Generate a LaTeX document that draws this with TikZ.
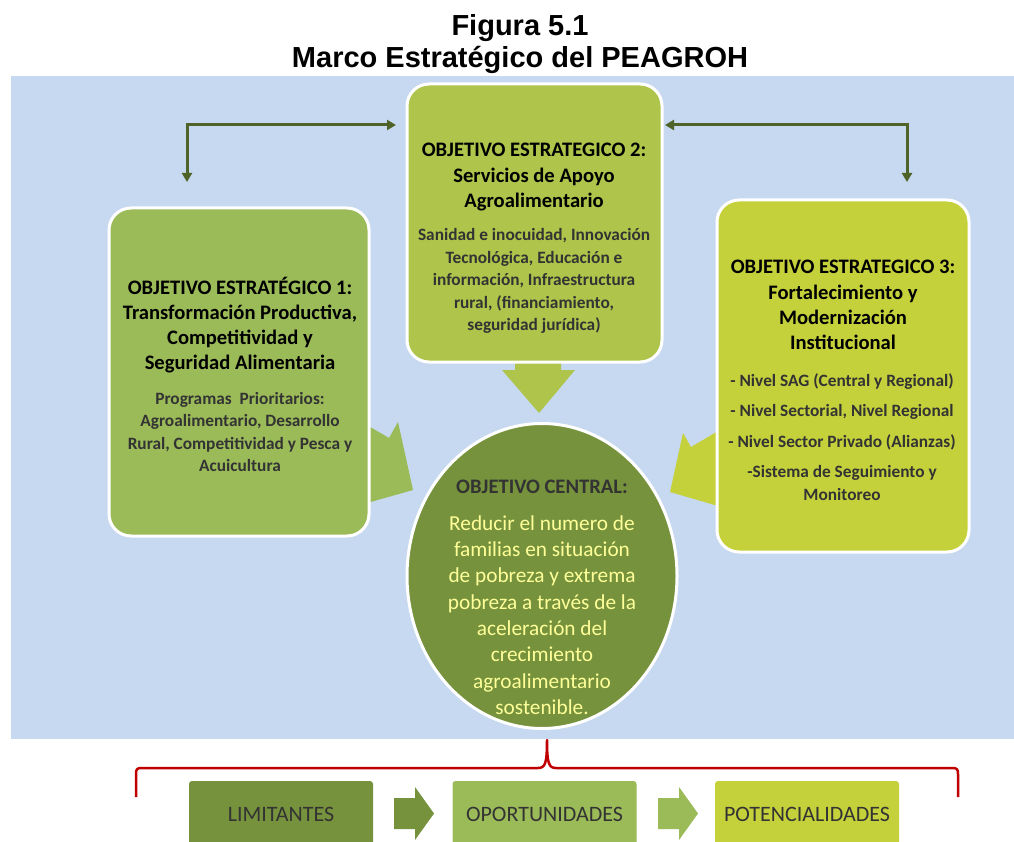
\documentclass[tikz,border=0pt]{standalone}
\usepackage{fontspec}
\setmainfont{Carlito}
\newfontfamily\arialf{Liberation Sans}
\usetikzlibrary{arrows.meta,shapes.geometric}
\definecolor{bgblue}{HTML}{C6D9F1}
\definecolor{cone}{HTML}{9BBB59}
\definecolor{ctwo}{HTML}{AEC44A}
\definecolor{cthree}{HTML}{C5D13B}
\definecolor{ccenter}{HTML}{76923C}
\definecolor{connc}{HTML}{4F6228}
\definecolor{bracec}{HTML}{C00000}
\definecolor{textdark}{HTML}{333333}
\definecolor{paleyellow}{HTML}{FFFF99}
\tikzset{
  bigbox/.style={draw=white, line width=3pt, rounded corners=22pt, inner sep=0pt},
  ttl/.style={font=\bfseries\fontsize{20.6}{25.2}\selectfont, align=center, inner sep=0pt, text=black},
  bodytxt/.style={font=\bfseries\fontsize{17.3}{22.6}\selectfont, align=center, inner sep=0pt, text=textdark},
  conn/.style={draw=connc, line width=3pt, {Triangle[length=9pt,width=10pt]}-{Triangle[length=9pt,width=10pt]}},
  smallbox/.style={rounded corners=3pt, inner sep=0pt, minimum width=184pt, minimum height=67pt,
     font=\fontsize{22}{26}\selectfont, text=textdark},
}
\begin{document}
\begin{tikzpicture}[x=1pt,y=-1pt]
\useasboundingbox (0,0) rectangle (1014,842);
\clip (0,0) rectangle (1014,842);
% title
\node[font=\arialf\bfseries\fontsize{29}{33}\selectfont, anchor=base, inner sep=0pt] (title1) at (520,36) {Figura 5.1};
\node[font=\arialf\bfseries\fontsize{29}{33}\selectfont, anchor=base, inner sep=0pt] (title2) at (520,68) {Marco Estratégico del PEAGROH};
% background
\fill[bgblue] (11,76) rectangle (1014,739);
% big block arrows (under the boxes)
\fill[cone] (360,421) -- (389,438) -- (398,422) -- (413,490) -- (360,505) -- cycle;
\fill[cthree] (683,433) -- (691,447) -- (725,427) -- (725,508) -- (670,492) -- cycle;
\fill[ctwo] (515,355) -- (561,355) -- (561,370) -- (575,370) -- (539,413) -- (502,370) -- (515,370) -- cycle;
% boxes
\node[bigbox, fill=cone, minimum width=260pt, minimum height=328pt] (b1) at (239,372) {};
\node[bigbox, fill=ctwo, minimum width=255pt, minimum height=278pt] (b2) at (534.5,223) {};
\node[bigbox, fill=cthree, minimum width=252pt, minimum height=352pt] (b3) at (843,376) {};
\node[ellipse, draw=white, line width=3pt, fill=ccenter, minimum width=270pt, minimum height=305pt, inner sep=0pt] (ctr) at (542,576) {};
% texts
\node[ttl] (t1) at (240,325) {OBJETIVO ESTRATÉGICO 1:\\Transformación Productiva,\\Competitividad y\\Seguridad Alimentaria};
\node[bodytxt] (d1) at (240,432) {Programas~~Prioritarios:\\Agroalimentario, Desarrollo\\Rural, Competitividad y Pesca y\\Acuicultura};
\node[ttl] (t2) at (534,177) {OBJETIVO ESTRATEGICO 2:\\Servicios de Apoyo\\Agroalimentario};
\node[bodytxt] (d2) at (534,281) {Sanidad e inocuidad, Innovación\\Tecnológica, Educación e\\información, Infraestructura\\rural, (financiamiento,\\seguridad jurídica)};
\node[ttl] (t3) at (843,305) {OBJETIVO ESTRATEGICO 3:\\Fortalecimiento y\\Modernización\\Institucional};
\node[bodytxt] (d3) at (842,437) {- Nivel SAG (Central y Regional)\\[8pt]- Nivel Sectorial, Nivel Regional\\[8pt]- Nivel Sector Privado (Alianzas)\\[8pt]-Sistema de Seguimiento y\\Monitoreo};
\node[font=\bfseries\fontsize{20.6}{24}\selectfont, text=textdark, anchor=base, inner sep=0pt] (tc) at (542,493) {OBJETIVO CENTRAL:};
\node[font=\fontsize{21.3}{26.3}\selectfont, text=paleyellow, align=center, inner sep=0pt] (dc) at (542,615) {Reducir el numero de\\familias en situación\\de pobreza y extrema\\pobreza a través de la\\aceleración del\\crecimiento\\agroalimentario\\sostenible.};
% connectors
\coordinate (cl) at (187,182);
\coordinate (cm) at (396,125);
\coordinate (cr) at (907,182);
\coordinate (cn) at (665,125);
\draw[conn] (cl) |- (cm);
\draw[conn] (cr) |- (cn);
% brace
\draw[bracec, line width=2.5pt, line join=round]
  (136,797) -- (136,774) .. controls (136,769) and (137,768) .. (142,768)
  -- (538,768) .. controls (545,768) and (547,764) .. (547,740)
  .. controls (547,764) and (549,768) .. (556,768)
  -- (952,768) .. controls (957,768) and (958,769) .. (958,774) -- (958,797);
% bottom boxes
\node[smallbox, fill=ccenter] (lim) at (281,814.5) {LIMITANTES};
\node[smallbox, fill=cone] (opo) at (544.5,814.5) {OPORTUNIDADES};
\node[smallbox, fill=cthree] (pot) at (807,814.5) {POTENCIALIDADES};
\fill[ccenter] (394,798) -- (415,798) -- (415,787) -- (434,813.5) -- (415,840) -- (415,829) -- (394,829) -- cycle;
\fill[cone] (658,798) -- (679,798) -- (679,787) -- (698,813.5) -- (679,840) -- (679,829) -- (658,829) -- cycle;
\end{tikzpicture}
\end{document}
